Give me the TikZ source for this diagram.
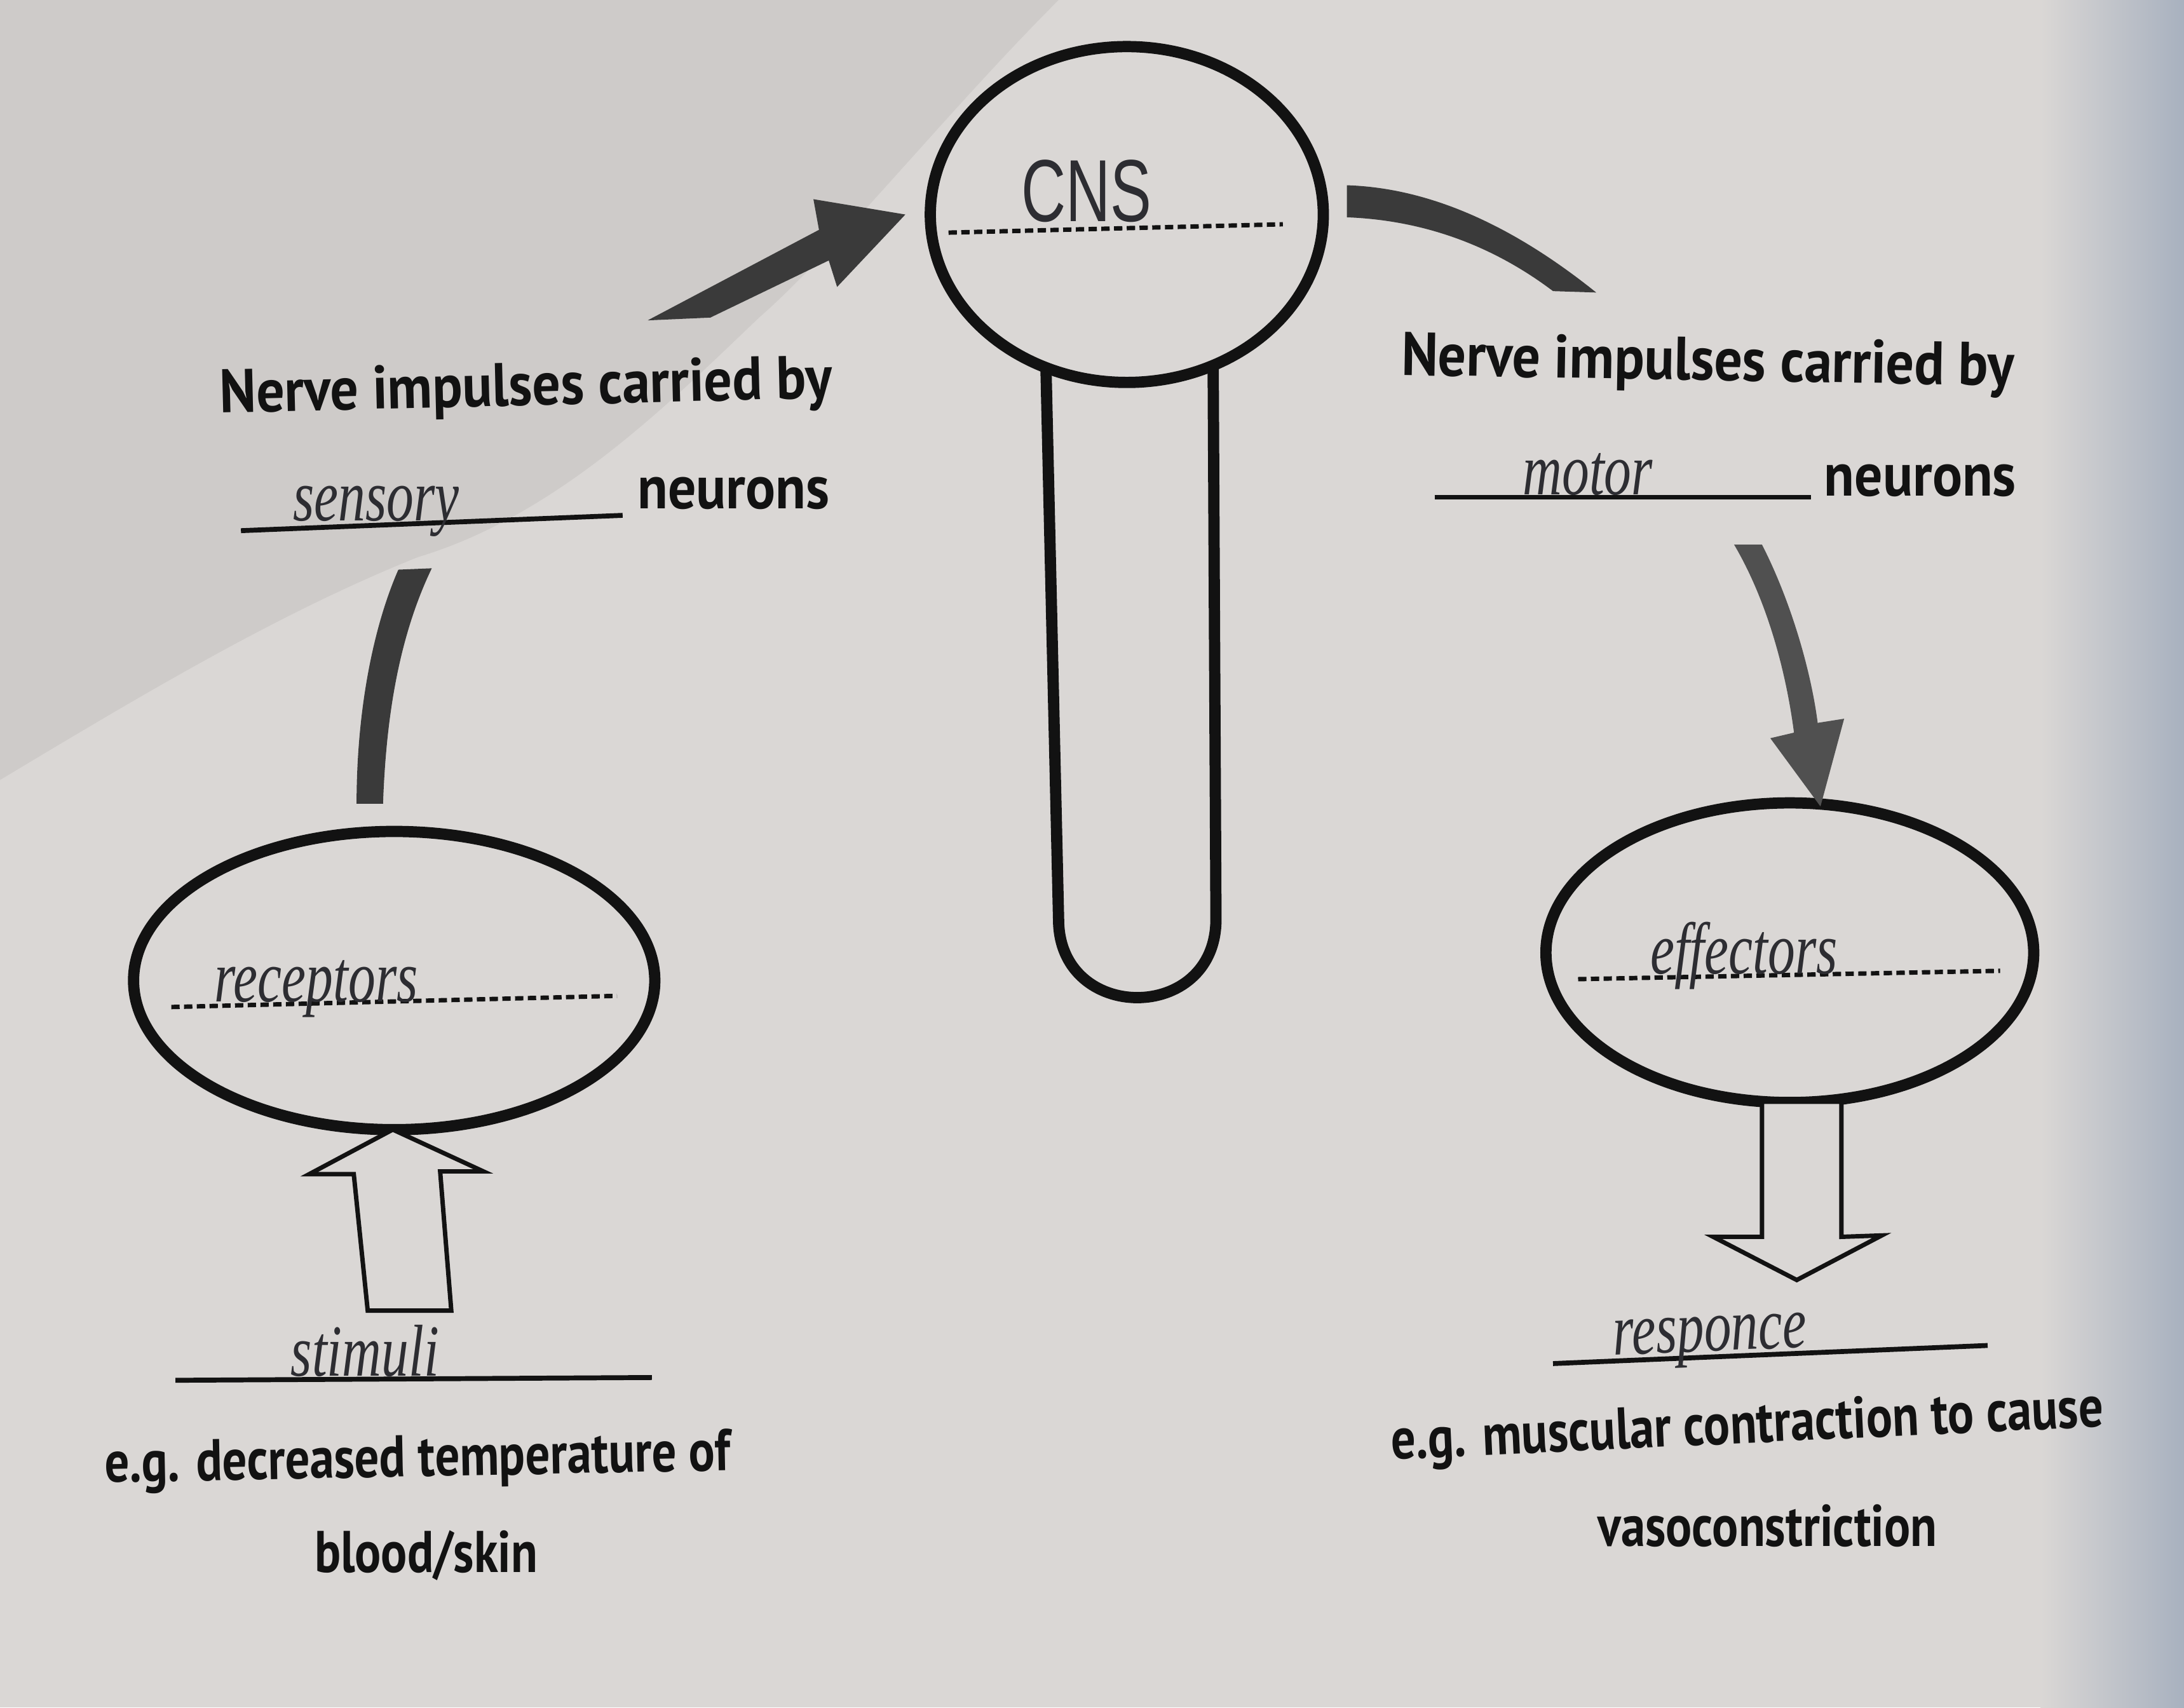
\documentclass[tikz,border=0pt]{standalone}
\usepackage{fontspec}
\setmainfont{PT Sans}
\newfontfamily\titlefont[FakeStretch=0.91]{PT Sans}
\newfontfamily\bodyfont[FakeStretch=0.83]{PT Sans}
\newfontfamily\handfont[FakeStretch=0.74]{Liberation Serif}
\newfontfamily\printhand[FakeStretch=0.7]{Liberation Sans}
\usetikzlibrary{shapes.geometric}
\definecolor{paper}{RGB}{218,215,213}
\definecolor{shadow}{RGB}{206,203,201}
\definecolor{edgeblue}{RGB}{168,177,191}
\definecolor{ink}{RGB}{18,18,18}
\definecolor{marker}{RGB}{58,58,58}
\definecolor{markerlight}{RGB}{80,80,80}
\definecolor{pencil}{RGB}{45,45,50}
\begin{document}
\begin{tikzpicture}[x=0.01cm,y=-0.01cm,
  organ/.style={draw=ink, line width=2.3pt, ellipse, inner sep=0pt},
  blankline/.style={draw=ink, line width=0.9pt, dash pattern=on 1.7pt off 0.9pt},
  answerline/.style={draw=ink, line width=1pt},
  printed/.style={font=\bodyfont\bfseries\fontsize{12}{14}\selectfont, text=ink, inner sep=0pt, anchor=base},
  titletext/.style={font=\titlefont\bfseries\fontsize{12.5}{14}\selectfont, text=ink, inner sep=0pt, anchor=base},
  hand/.style={font=\handfont\itshape\fontsize{15}{17}\selectfont, text=pencil, inner sep=0pt, anchor=base},
  hollow/.style={draw=ink, line width=0.9pt, fill=paper, line join=miter}
]
\useasboundingbox (0,0) rectangle (1568,1226);
% background paper
\fill[paper] (0,0) rectangle (1568,1226);
\fill[shadow] (0,0) -- (760,0) .. controls (680,80) and (600,180) .. (545,228)
   .. controls (480,290) and (400,370) .. (300,400) .. controls (200,440) and (100,500) .. (0,560) -- cycle;
\shade[left color=paper, right color=edgeblue] (1465,0) rectangle (1568,1226);

% CNS stem
\draw[ink, line width=2.3pt] (751,266) -- (760,660) .. controls (760,735) and (873,735) .. (873,660) -- (871,264);

% organs
\node[organ, minimum width=2.82cm, minimum height=2.41cm] (cns) at (809,154) {};
\node[organ, minimum width=3.74cm, minimum height=2.14cm] (receptors) at (283,704) {};
\node[organ, minimum width=3.50cm, minimum height=2.15cm] (effectors) at (1285,684) {};

% dashed blanks
\draw[blankline] (681,167) -- (921,161);
\draw[blankline] (123,723) -- (443,715);
\draw[blankline] (1133,703) -- (1436,697);

% handwritten answers in organs
\node[font=\printhand\fontsize{18}{20}\selectfont, text=pencil, inner sep=0pt, anchor=base] (cnslabel) at (780,159) {CNS};
\node[hand] (receptorslabel) at (227,719) {receptors};
\node[hand] (effectorslabel) at (1252,699) {effectors};

% marker arrows
\fill[marker] (465,230) -- (588,165) -- (584,143) -- (650,154) -- (601,206) -- (595,187) -- (510,228) -- cycle;
\fill[marker] (967,133) .. controls (1030,135) and (1090,165) .. (1146,210) -- (1115,209)
   .. controls (1070,175) and (1020,158) .. (967,156) -- cycle;
\fill[marker] (256,577) -- (275,577) .. controls (277,520) and (285,460) .. (310,408) -- (286,409)
   .. controls (268,450) and (256,510) .. (256,577) -- cycle;
\fill[markerlight] (1245,391) -- (1265,391) .. controls (1285,430) and (1300,480) .. (1305,519) -- (1324,516)
   -- (1307,579) -- (1271,530) -- (1288,526) .. controls (1282,480) and (1268,430) .. (1245,391) -- cycle;

% hollow arrows
\draw[hollow] (282,811) -- (347,841) -- (316,841) -- (324,941) -- (264,941) -- (254,843) -- (222,843) -- cycle;
\draw[hollow] (1265,791) -- (1322,791) -- (1322,888) -- (1351,887) -- (1290,919) -- (1230,888) -- (1265,888) -- cycle;

% left label
\node[titletext, rotate=1.4] (lefttitle) at (378,291) {Nerve impulses carried by};
\draw[answerline] (173,381) -- (447,370);
\node[hand] (sensory) at (270,374) {sensory};
\node[titletext, anchor=base west] (leftneurons) at (457,365) {neurons};

% right label
\node[titletext, rotate=-1] (righttitle) at (1226,273) {Nerve impulses carried by};
\draw[answerline] (1030,357) -- (1300,357);
\node[hand] (motor) at (1140,355) {motor};
\node[titletext, anchor=base west] (rightneurons) at (1309,356) {neurons};

% stimuli
\draw[answerline] (126,991) -- (468,989);
\node[hand] (stimuli) at (262,988) {stimuli};
\node[printed, rotate=1.1] (stimex) at (300,1060) {e.g. decreased temperature of};
\node[printed] (stimex2) at (306,1129) {blood/skin};

% response
\draw[answerline] (1115,979) -- (1427,966);
\node[hand, rotate=2.4] (response) at (1228,970) {responce};
\node[printed, rotate=2.65] (respex) at (1255,1036) {e.g. muscular contraction to cause};
\node[printed] (respex2) at (1269,1110) {vasoconstriction};
\end{tikzpicture}
\end{document}
